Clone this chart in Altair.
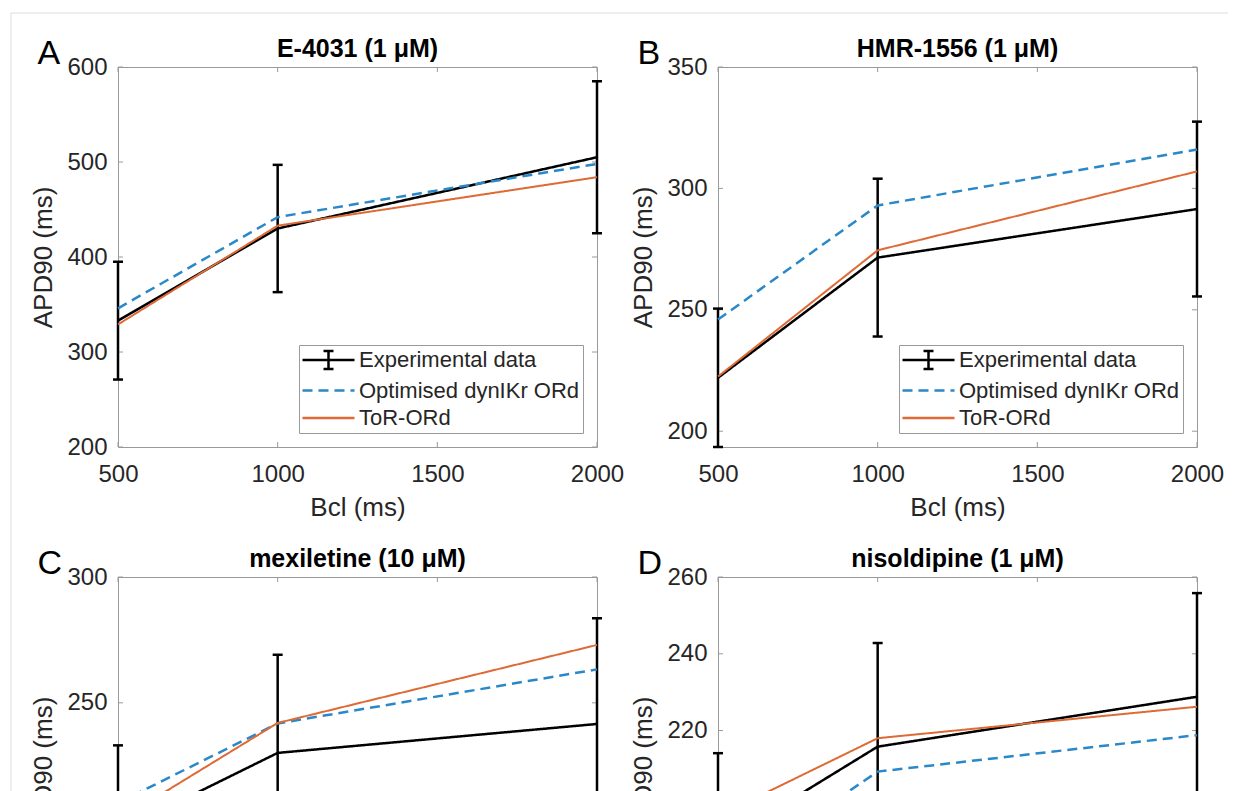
import altair as alt
import pandas as pd

# Basic cycle lengths (ms) and series names
bcl = [500, 1000, 2000]
series_names = ["Experimental data", "Optimised dynIKr ORd", "ToR-ORd"]
x_ticks = [500, 1000, 1500, 2000]

# A: E-4031 (1 uM)
a_exp = [333, 430, 505]
a_sd = [62, 67, 80]
a_opt = [346, 442, 498]
a_tor = [329, 433, 484]
a_dom = [200, 600]
a_ticks = [200, 300, 400, 500, 600]

# B: HMR-1556 (1 uM)
b_exp = [222, 271.5, 291.5]
b_sd = [28.5, 32.5, 36]
b_opt = [246, 293, 316]
b_tor = [222.5, 274.5, 307]
b_dom = [193.5, 350]
b_ticks = [200, 250, 300, 350]

# C: mexiletine (10 uM)
c_exp = [198.8, 230.1, 241.6]
c_sd = [34.3, 39, 42]
c_opt = [210.2, 241.8, 263.3]
c_tor = [203.2, 242, 273]
c_dom = [149, 300]
c_ticks = [150, 200, 250, 300]

# D: nisoldipine (1 uM)
d_exp = [190.3, 215.8, 228.8]
d_sd = [23.8, 27, 27]
d_opt = [181, 209.3, 218.8]
d_tor = [197.7, 218, 226.2]
d_dom = [161, 260]
d_ticks = [180, 200, 220, 240, 260]

W, H = 479, 380
FONT = "Liberation Sans"
TXT = "#262626"
BOX = "#9a9a9a"
COLORS = ["#000000", "#2a88c8", "#de6a35"]
DASHES = [[1, 0], [10, 6], [1, 0]]
WIDTHS = [2.5, 2.5, 2]

# legend glyphs in unit coords (scaled by the symbol size):
# a line crossed by an error bar, and a plain line
ERR_GLYPH = "M-2.6,0H2.6M0,-0.9V0.9M-0.5,-0.9H0.5M-0.5,0.9H0.5"
LINE_GLYPH = "M-2.6,0H2.6"
GLYPHS = [ERR_GLYPH, LINE_GLYPH, LINE_GLYPH]

one = pd.DataFrame({"k": [0]})


def panel(letter, title, ydom, yticks, exp, sd, opt, tor, frame=False):
    lines = pd.DataFrame({
        "Bcl": bcl * 3,
        "APD": exp + opt + tor,
        "series": [s for s in series_names for _ in bcl],
    })
    errs = pd.DataFrame({
        "Bcl": bcl,
        "lo": [m - s for m, s in zip(exp, sd)],
        "hi": [m + s for m, s in zip(exp, sd)],
    })
    caps = pd.DataFrame({"Bcl": bcl * 2, "v": errs["lo"].tolist() + errs["hi"].tolist()})
    xt = pd.DataFrame({"t": x_ticks})
    yt = pd.DataFrame({"t": yticks})

    xs = alt.Scale(domain=[500, 2000], nice=False, zero=False)
    ys = alt.Scale(domain=ydom, nice=False, zero=False)
    xaxis = alt.Axis(values=x_ticks, format="d", title="Bcl (ms)",
                     labelFlush=False, labelOverlap=False)
    yaxis = alt.Axis(values=yticks, format="d", title="APD90 (ms)",
                     labelFlush=False, labelOverlap=False)

    def X(f):
        return alt.X(f"{f}:Q", scale=xs, axis=xaxis)

    def Y(f):
        return alt.Y(f"{f}:Q", scale=ys, axis=yaxis)

    legend = alt.Legend(
        title=None, orient="bottom-right", offset=14, padding=3.5, rowPadding=4.5,
        labelFont=FONT, labelFontSize=22, labelColor=TXT, labelLimit=400,
        symbolSize=400, symbolOffset=14.5, labelOffset=19,
        strokeColor=BOX, fillColor="white", cornerRadius=0,
    )

    layers = []
    if frame:
        layers.append(alt.Chart(one).mark_rule(color="#dddddd", strokeWidth=1).encode(
            x=alt.value(-107), x2=alt.value(1110), y=alt.value(-54)))
        layers.append(alt.Chart(one).mark_rule(color="#dddddd", strokeWidth=1).encode(
            x=alt.value(-107), y=alt.value(-54), y2=alt.value(1000)))

    # inward box ticks on all four sides
    tick_style = dict(color=BOX, strokeWidth=1)
    layers += [
        alt.Chart(xt).mark_rule(**tick_style).encode(x=X("t"), y=alt.value(H - 5), y2=alt.value(H)),
        alt.Chart(xt).mark_rule(**tick_style).encode(x=X("t"), y=alt.value(0), y2=alt.value(5)),
        alt.Chart(yt).mark_rule(**tick_style).encode(y=Y("t"), x=alt.value(0), x2=alt.value(5)),
        alt.Chart(yt).mark_rule(**tick_style).encode(y=Y("t"), x=alt.value(W - 5), x2=alt.value(W)),
    ]

    # experimental error bars
    layers += [
        alt.Chart(errs).mark_rule(color="black", strokeWidth=2.5).encode(
            x=X("Bcl"), y=Y("lo"), y2="hi"),
        alt.Chart(caps).mark_tick(color="black", orient="horizontal", size=10,
                                  thickness=2.5, opacity=1).encode(x=X("Bcl"), y=Y("v")),
    ]

    # one line per series, drawn in order
    for s, c, d, w in zip(series_names, COLORS, DASHES, WIDTHS):
        layers.append(
            alt.Chart(lines).transform_filter(alt.datum.series == s).mark_line(
                color=c, strokeDash=d, strokeWidth=w).encode(x=X("Bcl"), y=Y("APD")))

    # legend carrier: no rows survive the filter, only the legend is drawn
    sc = dict(domain=series_names)
    layers.append(
        alt.Chart(lines).transform_filter("false").mark_point(filled=False, opacity=1).encode(
            x=X("Bcl"), y=Y("APD"),
            color=alt.Color("series:N", scale=alt.Scale(range=COLORS, **sc), legend=legend),
            strokeDash=alt.StrokeDash("series:N", scale=alt.Scale(range=DASHES, **sc), legend=legend),
            strokeWidth=alt.StrokeWidth("series:N", scale=alt.Scale(range=WIDTHS, **sc), legend=legend),
            shape=alt.Shape("series:N", scale=alt.Scale(range=GLYPHS, **sc), legend=legend),
        ))

    # panel letter and bold panel title
    layers.append(
        alt.Chart(one).mark_text(text=letter, align="left", baseline="alphabetic",
                                 font=FONT, fontSize=34, color="black").encode(
            x=alt.value(-80.5), y=alt.value(-3)))
    layers.append(
        alt.Chart(one).mark_text(text=title, align="center", baseline="alphabetic",
                                 font=FONT, fontSize=25, fontWeight="bold", color="black").encode(
            x=alt.value(W / 2), y=alt.value(-10)))

    return alt.layer(*layers).properties(width=W, height=H)


pa = panel("A", "E-4031 (1 μM)", a_dom, a_ticks, a_exp, a_sd, a_opt, a_tor, frame=True)
pb = panel("B", "HMR-1556 (1 μM)", b_dom, b_ticks, b_exp, b_sd, b_opt, b_tor)
pc = panel("C", "mexiletine (10 μM)", c_dom, c_ticks, c_exp, c_sd, c_opt, c_tor)
pd_ = panel("D", "nisoldipine (1 μM)", d_dom, d_ticks, d_exp, d_sd, d_opt, d_tor)

chart = alt.concat(
    pa, pb, pc, pd_, columns=2,
    spacing=alt.RowColnumber(row=130, column=121), bounds="flush",
).resolve_scale(
    color="independent", strokeDash="independent", strokeWidth="independent",
    shape="independent",
).properties(
    padding={"left": 10, "top": 12, "right": 0, "bottom": 0},
    background="white",
).configure_view(
    stroke=BOX, strokeWidth=1,
).configure_axis(
    labelFont=FONT, labelFontSize=24, labelColor=TXT,
    titleFont=FONT, titleFontSize=26, titleFontWeight="normal", titleColor=TXT,
    domain=False, ticks=False, tickSize=0, grid=False,
).configure_axisX(
    labelPadding=15, titlePadding=8,
).configure_axisY(
    labelPadding=11, titlePadding=10,
)

chart.save("out.html", embed_options={"renderer": "svg", "actions": False})
